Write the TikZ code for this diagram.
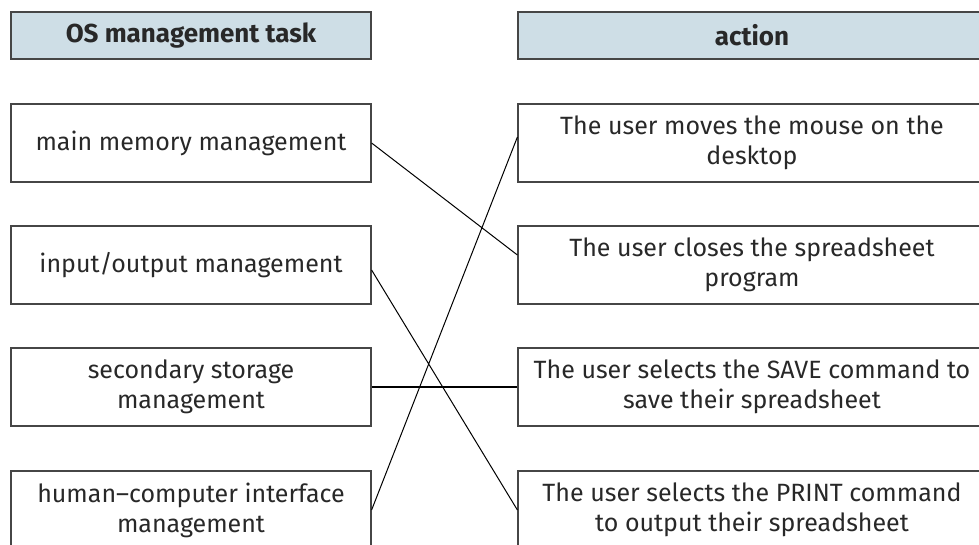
\documentclass[tikz,border=0pt]{standalone}
\usepackage{fontspec}
\setmainfont{Fira Sans}
\usetikzlibrary{calc}

\definecolor{hdrfill}{RGB}{206,222,230}
\definecolor{boxline}{RGB}{70,70,70}
\definecolor{inktext}{RGB}{40,40,40}

\tikzset{
  plainbox/.style={draw=boxline, line width=1.2pt, text=inktext, align=center,
    font=\fontsize{25}{30}\selectfont, minimum height=78pt, inner sep=0pt},
  taskbox/.style={plainbox, minimum width=360pt},
  actbox/.style={plainbox, minimum width=468pt},
  headbox/.style={plainbox, fill=hdrfill, minimum height=47pt,
    font=\fontsize{26}{30}\selectfont\bfseries},
  link/.style={draw=black, line width=1pt}
}

\begin{document}
\begin{tikzpicture}[x=1pt,y=-1pt]
            \useasboundingbox (0,0) rectangle (979,544);
            \clip (0,0) rectangle (979,544);
            % column heads
            \draw (191,35.5) node[headbox, minimum width=360pt] (taskhead) {OS management task};
            \draw (752,35.5) node[headbox, minimum width=468pt] (acthead) {action};
            % OS tasks
            \draw (191,143) node[taskbox] (mainmem) {main memory management};
            \draw (191,265) node[taskbox] (inout) {input/output management};
            \draw (191,387) node[taskbox] (secstore) {secondary storage\\management};
            \draw (191,510) node[taskbox] (hci) {human--computer interface\\management};
            % user actions
            \draw (752,143) node[actbox] (mouse) {The user moves the mouse on the\\desktop};
            \draw (752,265) node[actbox] (close) {The user closes the spreadsheet\\program};
            \draw (752,387) node[actbox] (save) {The user selects the SAVE command to\\save their spreadsheet};
            \draw (752,510) node[actbox] (print) {The user selects the PRINT command\\to output their spreadsheet};
            \path[link] (mainmem.east) -- ([yshift=10pt]close.west)
                        ([yshift=-5pt]inout.east) -- (print.west)
                        (hci.east) -- ([yshift=6pt]mouse.west);
            \draw[link, line width=1.5pt] (secstore.east) -- (save.west);
        \end{tikzpicture}
\end{document}
